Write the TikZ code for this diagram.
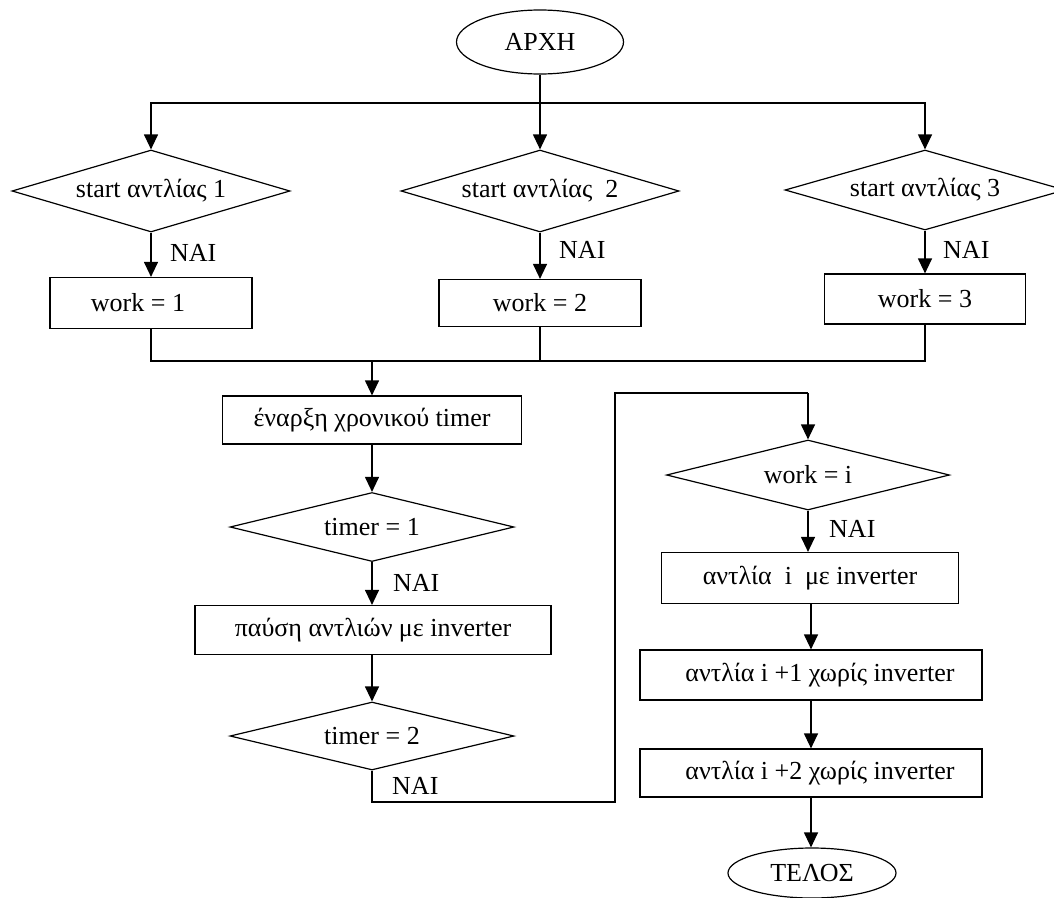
\documentclass[tikz,border=0pt]{standalone}
\usepackage{fontspec}
\setmainfont{Liberation Serif}
\usetikzlibrary{shapes.geometric,arrows.meta}
\begin{document}
\begin{tikzpicture}[x=1pt,y=-1pt,
  every node/.style={font=\fontsize{26}{30}\selectfont, inner sep=0pt},
  box/.style={draw, rectangle, line width=1.2pt},
  dec/.style={draw, diamond, line width=1.2pt},
  term/.style={draw, ellipse, line width=1.2pt},
  link/.style={line width=1.2pt},
  arr/.style={line width=1.2pt, -{Triangle[length=15pt,width=14pt]}},
  lbl/.style={anchor=west}]

\useasboundingbox (0,0) rectangle (1054,897);

% top
\node[term, minimum width=167pt, minimum height=64pt] (start) at (540,42) {ΑΡΧΗ};
\node[dec, minimum width=278pt, minimum height=82pt] (d1) at (151,191) {};
\node (d1t) at (d1.center) {start αντλίας 1};
\node[dec, minimum width=278pt, minimum height=82pt] (d2) at (540,191) {};
\node (d2t) at (d2.center) {start αντλίας\ \ 2};
\node[dec, minimum width=280pt, minimum height=80pt] (d3) at (925,190) {};
\node (d3t) at (d3.center) {start αντλίας 3};

\node[box, minimum width=202pt, minimum height=51pt] (b1) at (151,303) {work = 1\hspace*{26pt}};
\node[box, minimum width=202pt, minimum height=47pt] (b2) at (540,303) {work = 2};
\node[box, minimum width=201pt, minimum height=50pt] (b3) at (925,299) {work = 3};

\node[lbl] (n1) at (170,253) {ΝΑΙ};
\node[lbl] (n2) at (559,250) {ΝΑΙ};
\node[lbl] (n3) at (943,250) {ΝΑΙ};

\coordinate (split) at (540,103);
\coordinate (mg) at (372,361);

\draw[arr] (start.south) -- (d2.north);
\draw[arr] (split) -| (d1.north);
\draw[arr] (split) -| (d3.north);
\draw[arr] (d1.south) -- (b1.north);
\draw[arr] (d2.south) -- (b2.north);
\draw[arr] (d3.south) -- (b3.north);
\draw[link] (b1.south) |- (mg) -| (b3.south);
\draw[link] (b2.south) -- (b2.south |- mg);

% left column
\node[box, minimum width=299pt, minimum height=48pt] (ts) at (372,420) {έναρξη χρονικού timer};
\node[dec, minimum width=284pt, minimum height=69pt] (t1) at (372,527) {};
\node (t1t) at (t1.center) {timer = 1};
\node[box, minimum width=356pt, minimum height=49pt] (pa) at (373,630) {παύση αντλιών με inverter};
\node[dec, minimum width=284pt, minimum height=68pt] (t2) at (372,736) {};
\node (t2t) at (t2.center) {timer = 2};
\node[lbl] (n4) at (393,583) {ΝΑΙ};
\node[lbl] (n5) at (392,786) {ΝΑΙ};

\draw[arr] (mg) -- (ts.north);
\draw[arr] (ts.south) -- (t1.north);
\draw[arr] (t1.south) -- (t1.south |- pa.north);
\draw[arr] (pa.south -| t2.north) -- (t2.north);

\coordinate (c1) at (372,802);
\coordinate (c2) at (615,802);
\coordinate (c3) at (615,393);
\coordinate (c4) at (808,393);

% right column
\node[dec, minimum width=283pt, minimum height=70pt] (wi) at (808,475) {};
\node (wit) at (wi.center) {work = i};
\node[box, minimum width=297pt, minimum height=51pt] (r1) at (810,578) {αντλία\ \ i\ \ με inverter};
\node[box, minimum width=342pt, minimum height=50pt] (r2) at (811,675) {\hspace*{18pt}αντλία i +1 χωρίς inverter};
\node[box, minimum width=342pt, minimum height=48pt] (r3) at (811,773) {\hspace*{18pt}αντλία i +2 χωρίς inverter};
\node[term, minimum width=168pt, minimum height=50pt] (end) at (812,873) {ΤΕΛΟΣ};
\node[lbl] (n6) at (829,529) {ΝΑΙ};

\draw[link] (t2.south) -- (c1) -- (c2) -- (c3) -- (c4);
\draw[arr] (c4) -- (wi.north);
\draw[arr] (wi.south) -- (wi.south |- r1.north);
\draw[arr] (r1.south -| r2.north) -- (r2.north);
\draw[arr] (r2.south) -- (r3.north);
\draw[arr] (r3.south) -- (r3.south |- end.north);
\end{tikzpicture}
\end{document}
